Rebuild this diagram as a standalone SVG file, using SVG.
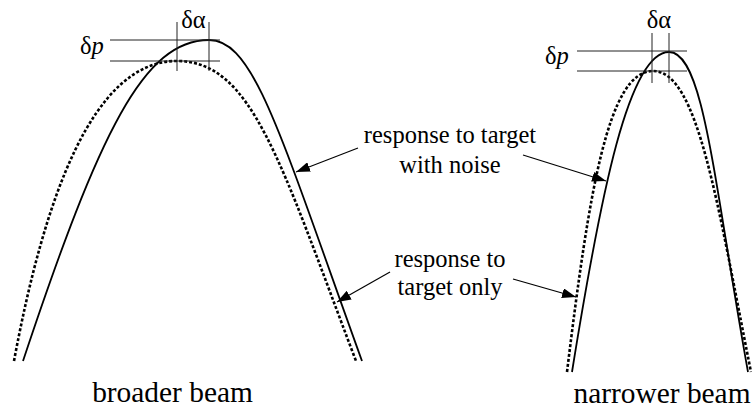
<svg xmlns="http://www.w3.org/2000/svg" width="752" height="408" viewBox="0 0 752 408">
<style>
text{font-family:"Liberation Serif","Times New Roman",serif;fill:#000}
.lbl{font-size:24.5px;text-anchor:middle}
.big{font-size:29.4px;text-anchor:middle}
.sym{font-size:24.5px}
.guide{stroke:#222;stroke-width:1;fill:none}
.solid{stroke:#000;stroke-width:1.8;fill:none}
.dot{stroke:#000;stroke-width:2.6;fill:none;stroke-dasharray:3 2}
.arr{stroke:#000;stroke-width:1.2;fill:none;marker-end:url(#ah)}
</style>
<defs>
<marker id="ah" viewBox="0 0 14 10" refX="14" refY="5" markerWidth="14" markerHeight="10" markerUnits="userSpaceOnUse" orient="auto">
<path d="M0,0 L14,5 L0,10 Z" fill="#000"/>
</marker>
</defs>
<g id="broader-beam">
<path class="dot" d="M14,361 C44,200 92,61 177,61 C252,61 280,161 356,361"/>
<path class="solid" d="M23,361 C99.6,131 144,40 209,40 C254,40 279,131 362,361"/>
<g class="guide">
<line x1="110" y1="40" x2="220" y2="40"/>
<line x1="110" y1="61" x2="220" y2="61"/>
<line x1="177" y1="22" x2="177" y2="71"/>
<line x1="209" y1="22" x2="209" y2="71"/>
</g>
<text class="sym" x="193.5" y="28" text-anchor="middle">δα</text>
<text class="sym" x="80" y="54">δ<tspan font-style="italic">p</tspan></text>
<text class="big" x="172.5" y="402">broader beam</text>
</g>
<g id="narrower-beam">
<path class="dot" d="M567,372 C589,192 608,71 653,71 C698,71 717,202 751,372"/>
<path class="solid" d="M572,372 C601,192 629,52 669,52 C704,52 713.8,182 748,372"/>
<g class="guide">
<line x1="577" y1="51" x2="687" y2="51"/>
<line x1="577" y1="71" x2="687" y2="71"/>
<line x1="652" y1="33" x2="652" y2="83"/>
<line x1="669" y1="33" x2="669" y2="83"/>
</g>
<text class="sym" x="659" y="28" text-anchor="middle">δα</text>
<text class="sym" x="545" y="64">δ<tspan font-style="italic">p</tspan></text>
<text class="big" x="662" y="403">narrower beam</text>
</g>
<g id="label-noise">
<text class="lbl" x="450" y="143">response to target</text>
<text class="lbl" x="450" y="173">with noise</text>
</g>
<g id="label-target">
<text class="lbl" x="450" y="267">response to</text>
<text class="lbl" x="450" y="295">target only</text>
</g>
<g id="connectors">
<line class="arr" x1="358" y1="148" x2="296" y2="172"/>
<line class="arr" x1="390" y1="272" x2="337" y2="302"/>
<line class="arr" x1="523" y1="155" x2="606" y2="181"/>
<line class="arr" x1="513" y1="279" x2="576" y2="297"/>
</g>
</svg>
